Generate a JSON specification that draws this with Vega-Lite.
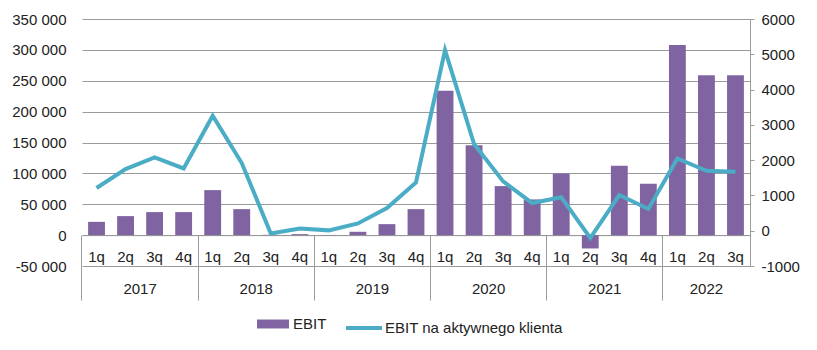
{
  "$schema": "https://vega.github.io/schema/vega-lite/v6.json",
  "width": 668,
  "height": 247,
  "autosize": "none",
  "padding": {"left": 82, "top": 19, "right": 67, "bottom": 84},
  "background": "white",
  "config": {
    "view": {"stroke": null},
    "font": "Liberation Sans",
    "axis": {"labelFont": "Liberation Sans", "labelFontSize": 15, "labelColor": "#222"},
    "legend": {"labelFont": "Liberation Sans", "labelFontSize": 15, "labelColor": "#222", "labelLimit": 400}
  },
  "data": {
    "values": [
      {"key": "2017 1q", "ebit": 21500, "perClient": 1210},
      {"key": "2017 2q", "ebit": 30800, "perClient": 1748},
      {"key": "2017 3q", "ebit": 37300, "perClient": 2077},
      {"key": "2017 4q", "ebit": 37300, "perClient": 1765},
      {"key": "2018 1q", "ebit": 72900, "perClient": 3258},
      {"key": "2018 2q", "ebit": 42100, "perClient": 1918},
      {"key": "2018 3q", "ebit": 500, "perClient": -76},
      {"key": "2018 4q", "ebit": 1600, "perClient": 65},
      {"key": "2019 1q", "ebit": 300, "perClient": 10},
      {"key": "2019 2q", "ebit": 5400, "perClient": 207},
      {"key": "2019 3q", "ebit": 17800, "perClient": 643},
      {"key": "2019 4q", "ebit": 42100, "perClient": 1368},
      {"key": "2020 1q", "ebit": 233700, "perClient": 5119},
      {"key": "2020 2q", "ebit": 145700, "perClient": 2456},
      {"key": "2020 3q", "ebit": 79400, "perClient": 1397},
      {"key": "2020 4q", "ebit": 57800, "perClient": 785},
      {"key": "2021 1q", "ebit": 99900, "perClient": 950},
      {"key": "2021 2q", "ebit": -21600, "perClient": -207},
      {"key": "2021 3q", "ebit": 112300, "perClient": 1011},
      {"key": "2021 4q", "ebit": 83100, "perClient": 615},
      {"key": "2022 1q", "ebit": 307700, "perClient": 2048},
      {"key": "2022 2q", "ebit": 259100, "perClient": 1700},
      {"key": "2022 3q", "ebit": 259100, "perClient": 1671}
    ]
  },
  "layer": [
    {
      "mark": {"type": "bar"},
      "encoding": {
        "x": {
          "field": "key", "type": "nominal", "sort": null,
          "scale": {"paddingInner": 0.42, "paddingOuter": 0.21},
          "axis": {
            "title": null, "orient": "bottom", "offset": -30.875,
            "domainColor": "#9a9a9a", "domainWidth": 1,
            "bandPosition": -0.3621, "tickSize": 31, "tickColor": "#9a9a9a",
            "tickOpacity": {"condition": {"test": "indexof(datum.value, '1q') >= 0", "value": 1}, "value": 0},
            "labelAngle": 0, "labelBaseline": "top", "labelPadding": -17,
            "labelOffset": 0,
            "labelExpr": "substring(datum.value, 5)"
          }
        },
        "y": {
          "field": "ebit", "type": "quantitative",
          "scale": {"domain": [-50000, 350000], "nice": false, "zero": false},
          "axis": {
            "title": null, "values": [-50000, 0, 50000, 100000, 150000, 200000, 250000, 300000, 350000],
            "domain": false, "ticks": false, "labelPadding": 16,
            "grid": true, "gridColor": "#9a9a9a", "gridWidth": 1,
            "labelExpr": "replace(replace(format(datum.value, ','), ',', ' '), '\u2212', '-')"
          }
        },
        "fill": {
          "datum": "EBIT", "type": "nominal",
          "scale": {"domain": ["EBIT"], "range": ["#8064A2"]},
          "legend": {
            "title": null, "orient": "none", "legendX": 175, "legendY": 289,
            "symbolType": "M-1,-0.28H1V0.28H-1Z", "symbolSize": 1024, "symbolStrokeWidth": 0,
            "labelOffset": 4
          }
        }
      }
    },
    {
      "mark": {"type": "line", "strokeWidth": 4, "strokeJoin": "miter"},
      "encoding": {
        "x": {
          "field": "key", "type": "nominal", "sort": null,
          "axis": {
            "title": null, "orient": "bottom", "offset": 0,
            "domain": false,
            "bandPosition": -0.3621, "tickSize": 34, "tickColor": "#9a9a9a",
            "tickOpacity": {"condition": {"test": "indexof(datum.value, '1q') >= 0", "value": 1}, "value": 0},
            "labelAngle": 0, "labelBaseline": "top", "labelPadding": -19,
            "labelOffset": {"condition": {"test": "indexof(datum.value, '2022') >= 0", "value": 0}, "value": 14.52},
            "labelExpr": "indexof(datum.value, '2q') >= 0 ? substring(datum.value, 0, 4) : ''"
          }
        },
        "y": {
          "field": "perClient", "type": "quantitative",
          "scale": {"domain": [-1000, 6000], "nice": false, "zero": false},
          "axis": {
            "title": null, "orient": "right",
            "values": [-1000, 0, 1000, 2000, 3000, 4000, 5000, 6000],
            "domainColor": "#9a9a9a", "tickColor": "#9a9a9a", "tickSize": 4,
            "labelPadding": 7, "grid": false,
            "labelExpr": "replace(format(datum.value, 'd'), '\u2212', '-')"
          }
        },
        "stroke": {
          "datum": "EBIT na aktywnego klienta", "type": "nominal",
          "scale": {"domain": ["EBIT na aktywnego klienta"], "range": ["#4BACC6"]},
          "legend": {
            "title": null, "orient": "none", "legendX": 262, "legendY": 289,
            "symbolType": "stroke", "symbolSize": 1296, "symbolStrokeWidth": 4,
            "labelOffset": 1
          }
        }
      }
    }
  ],
  "resolve": {"scale": {"y": "independent"}, "axis": {"x": "independent"}}
}
